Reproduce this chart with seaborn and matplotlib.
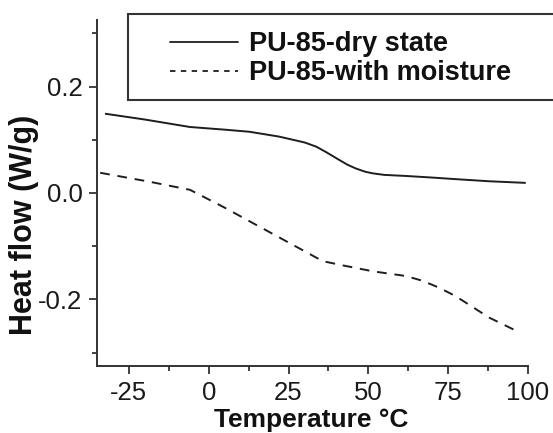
import numpy as np
import pandas as pd
import matplotlib
matplotlib.use("Agg")
import matplotlib.pyplot as plt
from matplotlib.lines import Line2D
from matplotlib.patches import Rectangle
import seaborn as sns

# Data
dry_temp = [-32.5, -20, -5.9, 5, 12.8, 22, 30, 33.7, 37, 40.9, 43.5, 46.1, 49, 51.3, 55, 61.8, 70, 77.4, 88, 99.3]
dry_flow = [0.149, 0.138, 0.124, 0.119, 0.115, 0.106, 0.095, 0.087, 0.076, 0.062, 0.053, 0.046, 0.040, 0.037, 0.034, 0.032, 0.029, 0.026, 0.022, 0.019]

wet_temp = [-34, -18.4, -5.9, 4.5, 14.9, 25.3, 35.7, 42, 51.3, 55.9, 61.8, 67, 72.2, 77.4, 87.8, 97.4]
wet_flow = [0.038, 0.021, 0.006, -0.026, -0.060, -0.094, -0.128, -0.136, -0.147, -0.151, -0.156, -0.165, -0.178, -0.194, -0.234, -0.262]

series_names = ["PU-85-dry state", "PU-85-with moisture"]

x_ticks = [-25, 0, 25, 50, 75, 100]
y_ticks = [-0.2, 0.0, 0.2]

df = pd.concat([
    pd.DataFrame({"Temperature": dry_temp, "Heat flow": dry_flow, "Sample": series_names[0]}),
    pd.DataFrame({"Temperature": wet_temp, "Heat flow": wet_flow, "Sample": series_names[1]}),
], ignore_index=True)

sns.set_style("ticks")
plt.rcParams['font.family'] = ['Liberation Sans', 'DejaVu Sans']

W, H = 553, 433
fig = plt.figure(figsize=(W / 100, H / 100), dpi=100)
ax = fig.add_axes([97 / W, 1 - 366 / H, (528 - 97) / W, (366 - 20) / H])

LC = "#1e1e1e"
sns.lineplot(data=df, x="Temperature", y="Heat flow", hue="Sample", style="Sample",
             palette=[LC, LC], dashes=[(1, 0), (5, 4)],
             linewidth=1.4, sort=False, estimator=None, ax=ax, legend=False)

ax.set_xlim(-35, 100)
ax.set_ylim(-0.325, 0.325)
ax.set_xticks(x_ticks)
ax.set_xticklabels([str(t) for t in x_ticks])
ax.set_yticks(y_ticks)
ax.set_yticklabels([f"{t:.1f}" for t in y_ticks])
ax.set_xticks([-12.5, 12.5, 37.5, 62.5, 87.5], minor=True)
ax.set_yticks([-0.3, -0.1, 0.1, 0.3], minor=True)

for s in ["top", "right"]:
    ax.spines[s].set_visible(False)
for s in ["left", "bottom"]:
    ax.spines[s].set_linewidth(1.4)
    ax.spines[s].set_color("#333333")

ax.tick_params(which="major", direction="out", length=5.5, width=1.3, color="#333333",
               labelsize=18.5, labelcolor="#1a1a1a")
ax.tick_params(axis="x", which="major", pad=5.5)
ax.tick_params(axis="y", which="major", pad=5)
ax.tick_params(which="minor", direction="out", length=3.5, width=1.3, color="#333333")

ax.set_xlabel("Temperature °C", fontsize=19, fontweight="bold", color="#111111")
ax.xaxis.set_label_coords((311 - 97) / 431, -(408 - 366) / 346)
ax.set_ylabel("Heat flow (W/g)", fontsize=22, fontweight="bold", color="#111111")
ax.yaxis.set_label_coords((39 - 97) / 431, (366 - 225) / 346)

# legend frame (extends past the right edge of the figure, as in the reference)
fig.patches.append(Rectangle((128 / W, 1 - 100 / H), (600 - 128) / W, (100 - 14) / H,
                             transform=fig.transFigure, fill=True, facecolor="white",
                             edgecolor="#333333", linewidth=1.5, zorder=5))

handles = [Line2D([], [], color=LC, lw=1.3, ls="-"),
           Line2D([], [], color=LC, lw=1.3, ls=(0, (3, 3)))]
leg = fig.legend(handles, series_names, loc="upper left",
                 bbox_to_anchor=(170 / W, 1 - 31 / H), bbox_transform=fig.transFigure,
                 prop={"weight": "bold", "size": 19.5}, handlelength=2.5, handletextpad=0.4,
                 labelspacing=0.12, borderpad=0, borderaxespad=0, frameon=False)
leg.set_zorder(6)
for t in leg.get_texts():
    t.set_color("#111111")

fig.savefig("out.png", dpi=100)
